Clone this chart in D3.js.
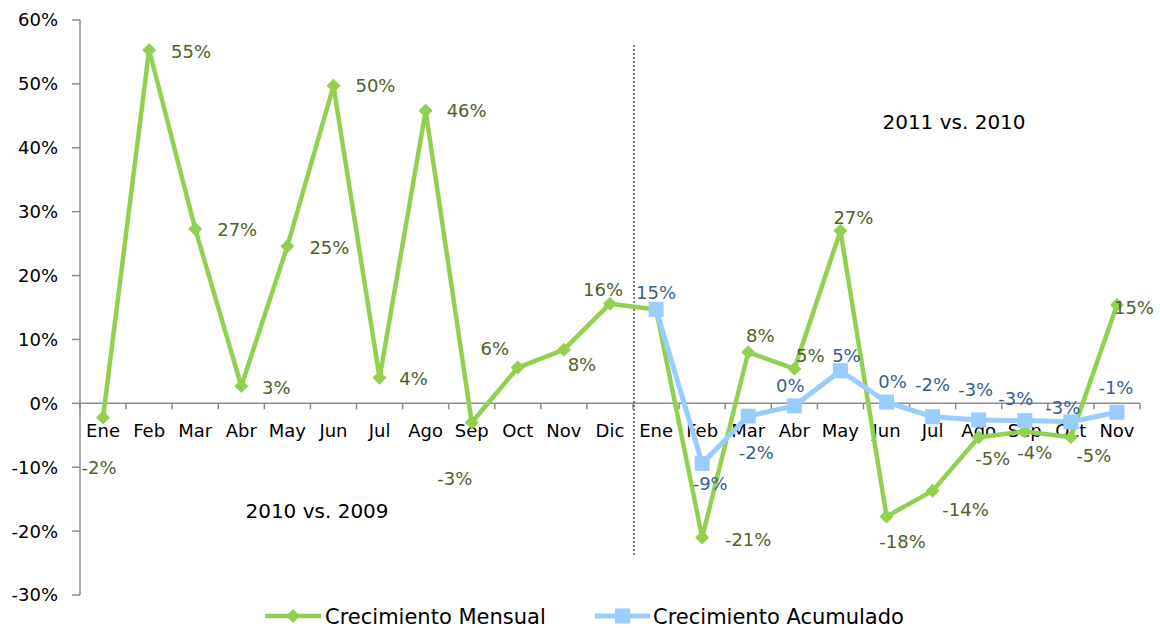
<!DOCTYPE html>
<html>
<head>
<meta charset="utf-8">
<script src="https://cdn.jsdelivr.net/npm/d3@7"></script>
<style>
  body { margin: 0; background: #fff; }
  text { font-family: "DejaVu Sans", sans-serif; }
</style>
</head>
<body>
<svg width="1160" height="628"></svg>
<script>
// meses, primero 2010 y luego 2011
const months = ["Ene","Feb","Mar","Abr","May","Jun","Jul","Ago","Sep","Oct","Nov","Dic",
                "Ene","Feb","Mar","Abr","May","Jun","Jul","Ago","Sep","Oct","Nov"];

// Crecimiento Mensual (%)
const mensual = [-2.2, 55.3, 27.3, 2.7, 24.6, 49.7, 4.0, 45.8, -3.0, 5.6, 8.4, 15.6,
                 14.7, -21.0, 8.0, 5.4, 27.0, -17.7, -13.7, -5.3, -4.4, -5.3, 15.4];

// Crecimiento Acumulado (%), solo 2011
const acumulado = [null, null, null, null, null, null, null, null, null, null, null, null,
                   14.7, -9.4, -2.0, -0.4, 5.1, 0.2, -2.1, -2.6, -2.7, -2.9, -1.4];

const yTicks = [-30, -20, -10, 0, 10, 20, 30, 40, 50, 60];

// desplazamiento de cada etiqueta respecto a su punto (px)
const offMensual = [[-4,50],[42,1],[42,1],[35,1],[42,1],[42,0],[34,1],[41,0],[-17,56],[-23,-19],[18,15],[-7,-14],
                    null,[46,2],[12,-17],[16,-13],[13,-13],[16,25],[33,19],[14,21],[10,21],[23,18],[17,3]];
const offAcum = [null,null,null,null,null,null,null,null,null,null,null,null,
                 [0,-17],[8,20],[8,36],[-4,-20],[6,-15],[6,-21],[0,-32],[-3,-30],[-9,-22],[-8,-14],[-1,-25]];

var svg = d3.select("svg");

var greenLine = "#92d050", greenText = "#4f6228";
var blueLine = "#99ccff", blueText = "#376092";

var idx = d3.range(months.length);

var x = d3.scaleBand().domain(idx).range([80, 1140]);
var y = d3.scaleLinear().domain([-30, 60]).range([595, 20]);

function cx(i) { return x(i) + x.bandwidth() / 2; }

var diamond = "M0,-7L7,0L0,7L-7,0Z";

// eje Y
svg.append("line")
    .attr("x1", 80).attr("x2", 80)
    .attr("y1", y(60)).attr("y2", y(-30))
    .attr("stroke", "#8c8c8c").attr("stroke-width", 1.5);

var yt = svg.append("g").selectAll("g").data(yTicks).enter().append("g");
yt.append("line")
    .attr("x1", 72).attr("x2", 80)
    .attr("y1", function(d) { return y(d); })
    .attr("y2", function(d) { return y(d); })
    .attr("stroke", "#8c8c8c").attr("stroke-width", 1.5);
yt.append("text")
    .attr("x", 58)
    .attr("y", function(d) { return y(d); })
    .attr("dy", "0.36em")
    .attr("text-anchor", "end")
    .attr("font-size", 18)
    .text(function(d) { return d + "%"; });

// eje X en 0%
svg.append("line")
    .attr("x1", 80).attr("x2", 1140)
    .attr("y1", y(0)).attr("y2", y(0))
    .attr("stroke", "#8c8c8c").attr("stroke-width", 1.5);

svg.append("g").selectAll("line")
    .data(idx.concat([months.length]))
    .enter().append("line")
    .attr("x1", function(i) { return i < months.length ? x(i) : 1140; })
    .attr("x2", function(i) { return i < months.length ? x(i) : 1140; })
    .attr("y1", y(0)).attr("y2", y(0) + 6)
    .attr("stroke", "#8c8c8c").attr("stroke-width", 1.5);

svg.append("g").selectAll("text")
    .data(idx)
    .enter().append("text")
    .attr("x", cx)
    .attr("y", y(0) + 34)
    .attr("text-anchor", "middle")
    .attr("font-size", 18)
    .text(function(i) { return months[i]; });

// separador 2010 / 2011
svg.append("line")
    .attr("x1", x(12) + 1).attr("x2", x(12) + 1)
    .attr("y1", 45).attr("y2", 557)
    .attr("stroke", "#000").attr("stroke-width", 1)
    .attr("stroke-dasharray", "2,2");

svg.append("text")
    .attr("x", 317).attr("y", 518)
    .attr("text-anchor", "middle").attr("font-size", 20)
    .text("2010 vs. 2009");
svg.append("text")
    .attr("x", 954).attr("y", 129)
    .attr("text-anchor", "middle").attr("font-size", 20)
    .text("2011 vs. 2010");

// lineas
var line = d3.line()
    .defined(function(d) { return d != null; })
    .x(function(d, i) { return cx(i); })
    .y(function(d) { return y(d); });

svg.append("path")
    .attr("d", line(mensual))
    .attr("fill", "none")
    .attr("stroke", greenLine).attr("stroke-width", 4.5)
    .attr("stroke-linejoin", "round");

svg.append("g").selectAll("path")
    .data(idx)
    .enter().append("path")
    .attr("d", diamond)
    .attr("transform", function(i) { return "translate(" + cx(i) + "," + y(mensual[i]) + ")"; })
    .attr("fill", greenLine);

svg.append("path")
    .attr("d", line(acumulado))
    .attr("fill", "none")
    .attr("stroke", blueLine).attr("stroke-width", 5)
    .attr("stroke-linejoin", "round");

svg.append("g").selectAll("rect")
    .data(idx.filter(function(i) { return acumulado[i] != null; }))
    .enter().append("rect")
    .attr("x", function(i) { return cx(i) - 7.5; })
    .attr("y", function(i) { return y(acumulado[i]) - 7.5; })
    .attr("width", 15).attr("height", 15)
    .attr("fill", blueLine);

// etiquetas de datos
function pct(v) { return Math.round(v) + "%"; }

svg.append("g").selectAll("text")
    .data(idx.filter(function(i) { return offMensual[i] != null; }))
    .enter().append("text")
    .attr("x", function(i) { return cx(i) + offMensual[i][0]; })
    .attr("y", function(i) { return y(mensual[i]) + offMensual[i][1]; })
    .attr("dy", "0.36em")
    .attr("text-anchor", "middle")
    .attr("font-size", 18)
    .attr("fill", greenText)
    .text(function(i) { return pct(mensual[i]); });

svg.append("g").selectAll("text")
    .data(idx.filter(function(i) { return offAcum[i] != null; }))
    .enter().append("text")
    .attr("x", function(i) { return cx(i) + offAcum[i][0]; })
    .attr("y", function(i) { return y(acumulado[i]) + offAcum[i][1]; })
    .attr("dy", "0.36em")
    .attr("text-anchor", "middle")
    .attr("font-size", 18)
    .attr("fill", blueText)
    .text(function(i) { return pct(acumulado[i]); });

// leyenda
var leg = svg.append("g");
leg.append("line").attr("x1", 265).attr("x2", 321).attr("y1", 616).attr("y2", 616)
    .attr("stroke", greenLine).attr("stroke-width", 4.5);
leg.append("path").attr("d", diamond)
    .attr("transform", "translate(293,616)").attr("fill", greenLine);
leg.append("text").attr("x", 325).attr("y", 616).attr("dy", "0.36em")
    .attr("font-size", 21).text("Crecimiento Mensual");

leg.append("line").attr("x1", 595).attr("x2", 650).attr("y1", 616).attr("y2", 616)
    .attr("stroke", blueLine).attr("stroke-width", 5);
leg.append("rect").attr("x", 615).attr("y", 608.5).attr("width", 15).attr("height", 15)
    .attr("fill", blueLine);
leg.append("text").attr("x", 653).attr("y", 616).attr("dy", "0.36em")
    .attr("font-size", 21).text("Crecimiento Acumulado");
</script>
</body>
</html>
